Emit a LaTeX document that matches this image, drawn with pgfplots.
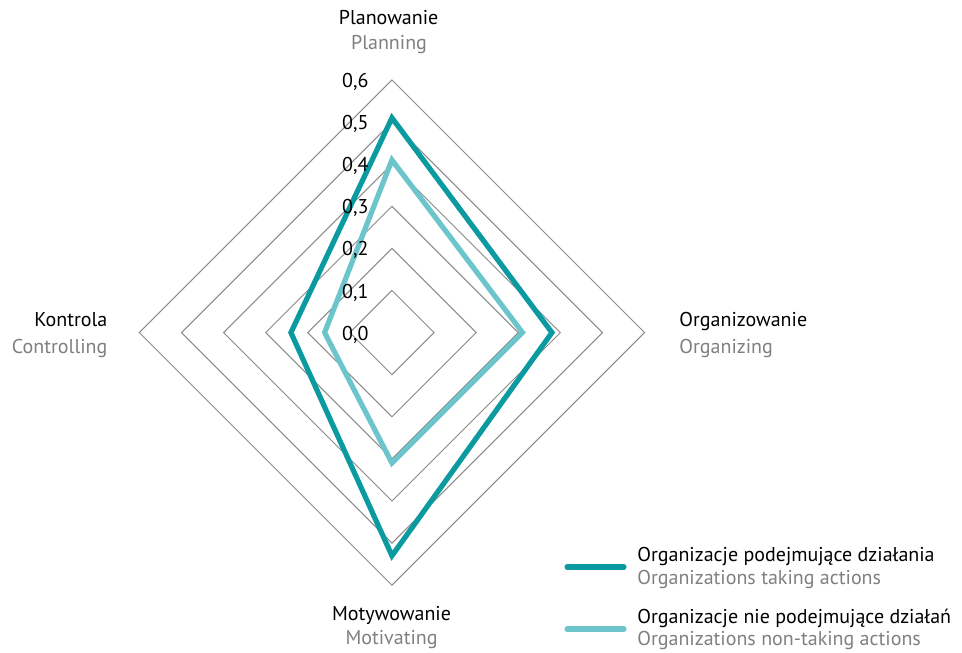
\documentclass[border=0pt]{standalone}
\usepackage{pgfplots}
\pgfplotsset{compat=1.18}
\usepackage{fontspec}
\setmainfont{PT Sans}

\definecolor{tealdark}{HTML}{0A9AA0}
\definecolor{teallight}{HTML}{6CC5CA}
\definecolor{labgray}{HTML}{7F7F7F}
\definecolor{gridgray}{HTML}{8A8A8A}

\tikzset{
  lbl/.style={font=\fontsize{10}{12}\selectfont, inner sep=0pt},
  sub/.style={lbl, text=labgray},
}

\begin{document}
\begin{tikzpicture}
\begin{axis}[
    x=210.5pt, y=210.5pt,
    xmin=-0.931, xmax=1.354,
    ymin=-0.759, ymax=0.790,
    hide axis, clip=false,
]
    % --- siatka (romby 0,1 ... 0,6) ---
    \addplot[gridgray, line width=0.5pt] coordinates {(0,0.1)(0.1,0)(0,-0.1)(-0.1,0)} -- cycle;
    \addplot[gridgray, line width=0.5pt] coordinates {(0,0.2)(0.2,0)(0,-0.2)(-0.2,0)} -- cycle;
    \addplot[gridgray, line width=0.5pt] coordinates {(0,0.3)(0.3,0)(0,-0.3)(-0.3,0)} -- cycle;
    \addplot[gridgray, line width=0.5pt] coordinates {(0,0.4)(0.4,0)(0,-0.4)(-0.4,0)} -- cycle;
    \addplot[gridgray, line width=0.5pt] coordinates {(0,0.5)(0.5,0)(0,-0.5)(-0.5,0)} -- cycle;
    \addplot[gridgray, line width=0.5pt] coordinates {(0,0.6)(0.6,0)(0,-0.6)(-0.6,0)} -- cycle;

    % --- serie: Planowanie, Organizowanie, Motywowanie, Kontrola ---
    \addplot[tealdark, line width=2.6pt, line join=miter]
        coordinates {(0,0.51)(0.38,0)(0,-0.53)(-0.24,0)} -- cycle;
    \addplot[teallight, line width=2.6pt, line join=miter]
        coordinates {(0,0.41)(0.31,0)(0,-0.31)(-0.16,0)} -- cycle;

    % --- etykiety skali ---
    \node[lbl, anchor=base east] at (axis cs:-0.055,-0.018) {0,0};
    \node[lbl, anchor=base east] at (axis cs:-0.055,0.082) {0,1};
    \node[lbl, anchor=base east] at (axis cs:-0.055,0.182) {0,2};
    \node[lbl, anchor=base east] at (axis cs:-0.055,0.282) {0,3};
    \node[lbl, anchor=base east] at (axis cs:-0.055,0.382) {0,4};
    \node[lbl, anchor=base east] at (axis cs:-0.055,0.482) {0,5};
    \node[lbl, anchor=base east] at (axis cs:-0.055,0.582) {0,6};

    % --- nazwy osi ---
    \node[lbl, anchor=base] at (axis cs:-0.008,0.732) {Planowanie};
    \node[sub, anchor=base] at (axis cs:-0.007,0.673) {Planning};
    \node[lbl, anchor=base west] at (axis cs:0.682,0.0138) {Organizowanie};
    \node[sub, anchor=base west] at (axis cs:0.682,-0.0487) {Organizing};
    \node[lbl, anchor=base] at (axis cs:-0.001,-0.6846) {Motywowanie};
    \node[sub, anchor=base] at (axis cs:-0.001,-0.7399) {Motivating};
    \node[lbl, anchor=base east] at (axis cs:-0.675,0.0138) {Kontrola};
    \node[sub, anchor=base east] at (axis cs:-0.675,-0.0487) {Controlling};

    % --- legenda ---
    \draw[tealdark, line width=2.6pt, line cap=round] (axis cs:0.416,-0.557) -- (axis cs:0.551,-0.557);
    \draw[teallight, line width=2.6pt, line cap=round] (axis cs:0.416,-0.704) -- (axis cs:0.551,-0.704);
    \node[lbl, anchor=base west] at (axis cs:0.582,-0.5444) {Organizacje podejmujące działania};
    \node[sub, anchor=base west] at (axis cs:0.582,-0.598) {Organizations taking actions};
    \node[lbl, anchor=base west] at (axis cs:0.582,-0.6907) {Organizacje nie podejmujące działań};
    \node[sub, anchor=base west] at (axis cs:0.582,-0.7423) {Organizations non-taking actions};
\end{axis}
\pgfresetboundingbox
\path (current axis.south west) rectangle (current axis.north east);
\end{tikzpicture}
\end{document}
